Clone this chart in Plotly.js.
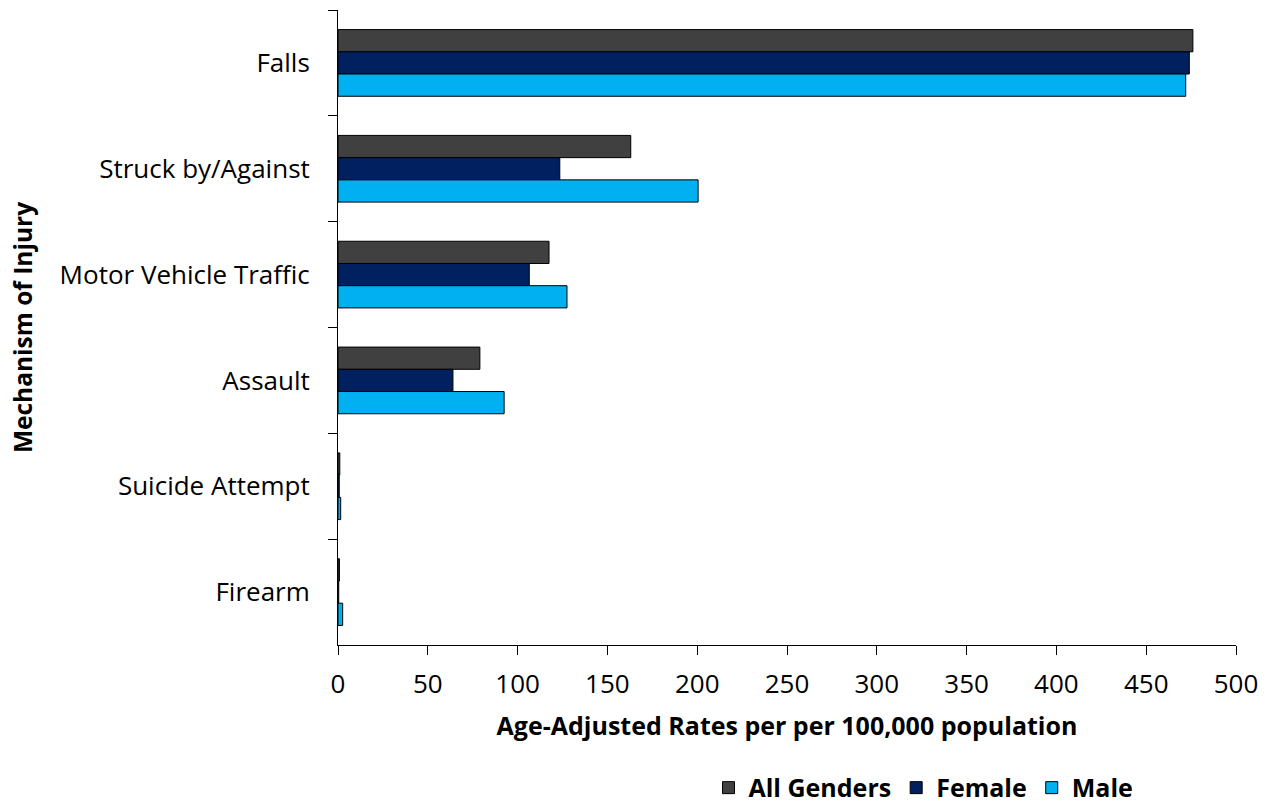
<!DOCTYPE html>
<html>
<head>
<meta charset="utf-8">
<script src="https://cdn.plot.ly/plotly-3.0.1.min.js"></script>
<style>html,body{margin:0;padding:0;background:#fff;}#chart{width:1272px;height:805px;}</style>
</head>
<body>
<div id="chart"></div>
<script>
const categories = ["Falls", "Struck by/Against", "Motor Vehicle Traffic", "Assault", "Suicide Attempt", "Firearm"];
const allGenders = [476, 163, 117.5, 79, 1.0, 0.8];
const female = [474, 123.5, 106.5, 64, 0.7, 0.4];
const male = [472, 200.5, 127.5, 92.5, 1.5, 2.6];
const seriesNames = ["All Genders", "Female", "Male"];
const xTicks = [0, 50, 100, 150, 200, 250, 300, 350, 400, 450, 500];

const colors = ["#404040", "#002060", "#00B0F0"];
const series = [allGenders, female, male];
const traces = series.map((vals, i) => ({
  type: "bar",
  orientation: "h",
  name: "<b>" + seriesNames[i] + "</b>",
  y: categories,
  x: vals,
  marker: {color: colors[i], line: {color: "#000", width: 1}},
  hoverinfo: "x+y"
}));

const font = "'Open Sans', 'Liberation Sans', sans-serif";
const layout = {
  width: 1272, height: 805,
  margin: {l: 338, r: 36, t: 10, b: 160, autoexpand: false},
  paper_bgcolor: "#fff", plot_bgcolor: "#fff",
  barmode: "group",
  bargap: 0.37,
  bargroupgap: 0,
  font: {family: font, size: 26, color: "#000"},
  xaxis: {
    range: [0, 500],
    tickvals: xTicks,
    ticktext: xTicks.map(String),
    showgrid: false, zeroline: false,
    showline: true, linecolor: "#000", linewidth: 1,
    ticks: "outside", ticklen: 9, tickcolor: "#000",
    tickfont: {size: 26},
    ticklabelstandoff: 7,
    title: {text: "<b>Age-Adjusted Rates per per 100,000 population</b>", font: {size: 25}, standoff: 17}
  },
  yaxis: {
    type: "category",
    autorange: "reversed",
    showgrid: false, zeroline: false,
    showline: true, linecolor: "#000", linewidth: 1,
    ticks: "outside", ticklen: 9, tickcolor: "#000",
    tickson: "boundaries",
    tickfont: {size: 26},
    ticklabelstandoff: 22,
    title: {text: "<b>Mechanism of Injury</b>", font: {size: 24.5}, standoff: 20}
  },
  showlegend: true,
  legend: {
    orientation: "h",
    x: 0.652, xanchor: "center",
    y: -0.225, yanchor: "middle",
    font: {family: font, size: 25},
    traceorder: "normal",
    itemwidth: 30
  }
};

Plotly.newPlot("chart", traces, layout, {displayModeBar: false, staticPlot: true});
</script>
</body>
</html>
